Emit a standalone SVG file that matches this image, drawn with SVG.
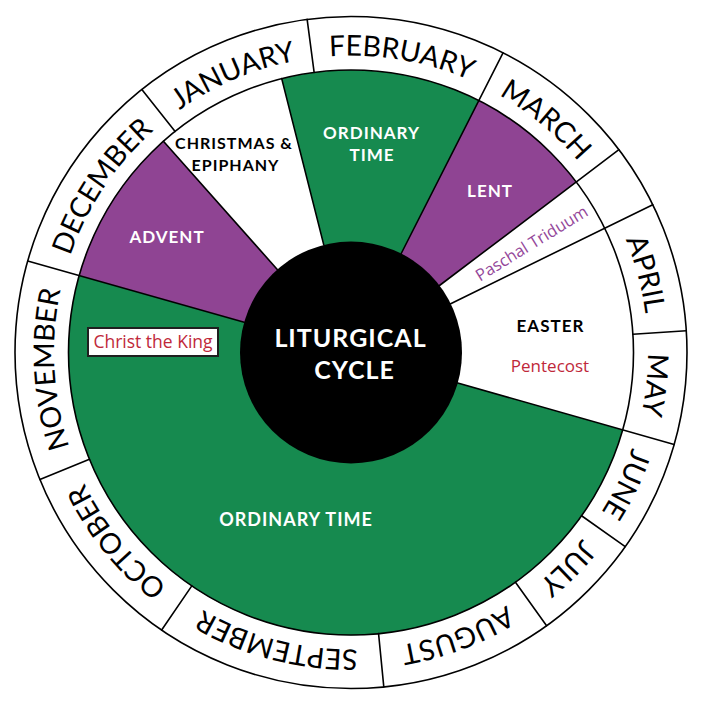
<svg xmlns="http://www.w3.org/2000/svg" xmlns:xlink="http://www.w3.org/1999/xlink" width="703" height="710" viewBox="0 0 703 710">
<style>
.ln{stroke:#000;stroke-width:1.6;fill:none;stroke-linecap:round}
.green{fill:#168a4f}
.purple{fill:#8f4493}
.mon{font-family:Lato,"Liberation Sans",sans-serif;font-size:28.5px;fill:#000}
.lab{font-family:Lato,"Liberation Sans",sans-serif;font-weight:700;text-anchor:middle;letter-spacing:1px}
.w{fill:#fff}
.k{fill:#000}
.small{font-family:"Open Sans","Liberation Sans",sans-serif;text-anchor:middle}
.red{fill:#c0283a}
</style>
<defs>
<path id="ring" d="M 603.96 196.87 A 297 297 0 0 1 98.04 508.13 A 297 297 0 0 1 603.96 196.87"/>
</defs>
<rect width="703" height="710" fill="#fff"/>
<circle cx="351" cy="352.5" r="336" fill="#fff" stroke="#000" stroke-width="1.6"/>

<g id="ordinary-time-winter">
<path class="green" d="M 351 352.5 L 281.70 78.63 A 282.5 282.5 0 0 1 478.81 100.57 Z"/>
<text class="lab w" font-size="17" x="371.5" y="138.5">ORDINARY</text>
<text class="lab w" font-size="17" x="372" y="161">TIME</text>
</g>
<g id="lent">
<path class="purple" d="M 351 352.5 L 478.81 100.57 A 282.5 282.5 0 0 1 576.24 181.99 Z"/>
<text class="lab w" font-size="17" x="490" y="197">LENT</text>
</g>
<g id="paschal-triduum">
<text class="small" font-size="16.5" fill="#94479a" transform="translate(534.6 248.3) rotate(-31.5)">Paschal Triduum</text>
</g>
<g id="easter">
<text class="lab k" font-size="17" x="550.5" y="332">EASTER</text>
<text class="small red" font-size="17" x="550" y="372">Pentecost</text>
</g>
<g id="ordinary-time-summer">
<path class="green" d="M 351 352.5 L 622.69 429.89 A 282.5 282.5 0 0 1 79.17 275.58 Z"/>
<text class="lab w" font-size="18" x="296" y="526" letter-spacing="0.6">ORDINARY TIME</text>
</g>
<g id="christ-the-king">
<rect x="88" y="328" width="130" height="28" fill="#fff" stroke="#1f1f1f" stroke-width="2"/>
<text class="small red" font-size="17.5" x="153" y="348">Christ the King</text>
</g>
<g id="advent">
<path class="purple" d="M 351 352.5 L 79.17 275.58 A 282.5 282.5 0 0 1 163.44 141.25 Z"/>
<text class="lab w" font-size="17" x="167" y="243">ADVENT</text>
</g>
<g id="christmas-epiphany">
<text class="lab k" font-size="16" x="234" y="149">CHRISTMAS &amp;</text>
<text class="lab k" font-size="16" x="235.5" y="171">EPIPHANY</text>
</g>

<g id="connectors">
<circle class="ln" cx="351" cy="352.5" r="282.5"/>
<line class="ln" x1="323.77" y1="244.89" x2="281.70" y2="78.63"/>
<line class="ln" x1="401.22" y1="253.51" x2="503.02" y2="52.86"/>
<line class="ln" x1="439.50" y1="285.5" x2="618.90" y2="149.70"/>
<line class="ln" x1="450.68" y1="303.67" x2="652.74" y2="204.68"/>
<line class="ln" x1="457.75" y1="382.91" x2="674.14" y2="444.55"/>
<line class="ln" x1="244.19" y1="322.28" x2="27.69" y2="261.01"/>
<line class="ln" x1="277.30" y1="269.49" x2="163.44" y2="141.25"/>
<line class="ln" x1="314.13" y1="72.42" x2="307.14" y2="19.38"/>
<line class="ln" x1="175.14" y1="131.41" x2="141.84" y2="89.54"/>
<line class="ln" x1="89.44" y1="459.24" x2="39.91" y2="479.45"/>
<line class="ln" x1="191.80" y1="585.87" x2="161.65" y2="630.07"/>
<line class="ln" x1="378.57" y1="633.65" x2="383.79" y2="686.90"/>
<line class="ln" x1="515.45" y1="582.19" x2="546.59" y2="625.69"/>
<line class="ln" x1="581.56" y1="515.75" x2="625.22" y2="546.66"/>
<line class="ln" x1="632.91" y1="334.27" x2="686.30" y2="330.82"/>
</g>

<g id="center">
<circle cx="351" cy="352.5" r="111" fill="#000"/>
<text class="lab w" font-size="25" x="350.5" y="347" letter-spacing="1.1">LITURGICAL</text>
<text class="lab w" font-size="25" x="354.5" y="379" letter-spacing="1.3">CYCLE</text>
</g>

<g id="months" text-anchor="middle">
<text class="mon"><textPath xlink:href="#ring" href="#ring" startOffset="77.39%">JANUARY</textPath></text>
<text class="mon"><textPath xlink:href="#ring" href="#ring" startOffset="86.47%">FEBRUARY</textPath></text>
<text class="mon"><textPath xlink:href="#ring" href="#ring" startOffset="94.86%">MARCH</textPath></text>
<text class="mon"><textPath xlink:href="#ring" href="#ring" startOffset="4.64%">APRIL</textPath></text>
<text class="mon"><textPath xlink:href="#ring" href="#ring" startOffset="10.47%">MAY</textPath></text>
<text class="mon"><textPath xlink:href="#ring" href="#ring" startOffset="15.89%">JUNE</textPath></text>
<text class="mon"><textPath xlink:href="#ring" href="#ring" startOffset="21.24%">JULY</textPath></text>
<text class="mon"><textPath xlink:href="#ring" href="#ring" startOffset="28.06%">AUGUST</textPath></text>
<text class="mon"><textPath xlink:href="#ring" href="#ring" startOffset="37.76%">SEPTEMBER</textPath></text>
<text class="mon"><textPath xlink:href="#ring" href="#ring" startOffset="47.96%">OCTOBER</textPath></text>
<text class="mon"><textPath xlink:href="#ring" href="#ring" startOffset="57.89%">NOVEMBER</textPath></text>
<text class="mon"><textPath xlink:href="#ring" href="#ring" startOffset="68.13%">DECEMBER</textPath></text>
</g>
</svg>
